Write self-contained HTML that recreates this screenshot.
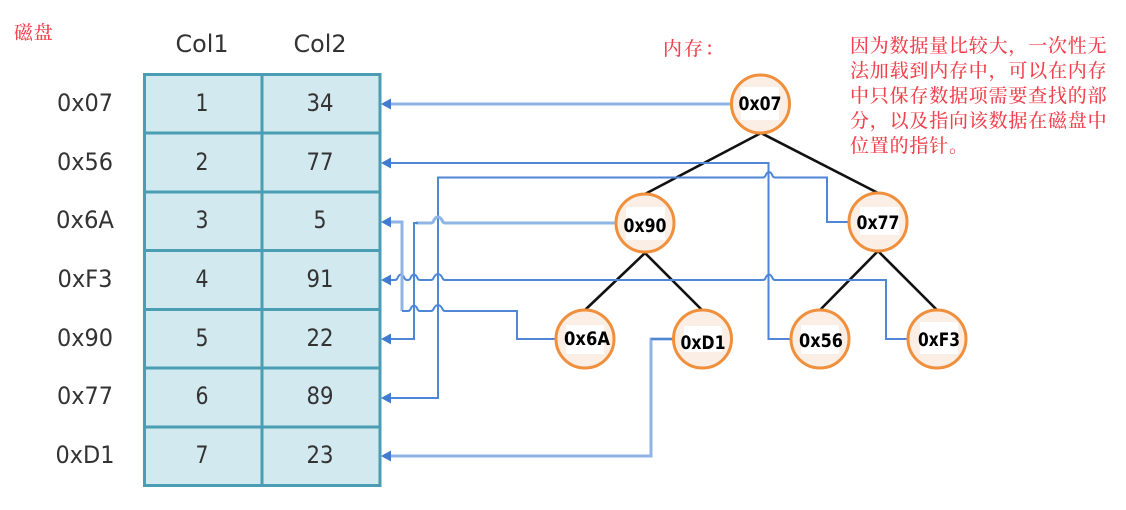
<!DOCTYPE html>
<html><head><meta charset="utf-8"><style>
html,body{margin:0;padding:0;background:#fff;width:1126px;height:510px;overflow:hidden}
svg{display:block}
.g{font-family:"DejaVu Sans","Liberation Sans",sans-serif;font-size:24px;fill:#333;text-anchor:middle}
.n{font-family:"DejaVu Sans","Liberation Sans",sans-serif;font-size:18.5px;font-weight:bold;fill:#000;text-anchor:middle}
.r{font-family:"Liberation Serif","Noto Serif CJK SC",serif;font-size:19px;fill:#f2404c;letter-spacing:.8px;font-weight:500}
.c{fill:none;stroke:#4f86d6;stroke-width:2}
.c2{fill:none;stroke:#8fb4e6;stroke-width:3}
.t{stroke:#111;stroke-width:2.6}
</style></head><body>
<svg width="1126" height="510" viewBox="0 0 1126 510" xmlns="http://www.w3.org/2000/svg">
<rect x="144.500" y="74.500" width="235.500" height="411" fill="#d2e9ef" stroke="#4a9db2" stroke-width="3"/>
<g stroke="#4a9db2" stroke-width="3">
<line x1="262" y1="74" x2="262" y2="486"/>
<line x1="144" y1="133" x2="380" y2="133"/>
<line x1="144" y1="192" x2="380" y2="192"/>
<line x1="144" y1="250.500" x2="380" y2="250.500"/>
<line x1="144" y1="309.500" x2="380" y2="309.500"/>
<line x1="144" y1="368" x2="380" y2="368"/>
<line x1="144" y1="427" x2="380" y2="427"/>
</g>
<g lengthAdjust="spacingAndGlyphs">
<text class="g" x="202" y="52" textLength="53" lengthAdjust="spacingAndGlyphs">Col1</text>
<text class="g" x="320" y="52" textLength="53" lengthAdjust="spacingAndGlyphs">Col2</text>
<text class="g" x="85" y="111" textLength="56" lengthAdjust="spacingAndGlyphs">0x07</text>
<text class="g" x="85" y="170" textLength="56" lengthAdjust="spacingAndGlyphs">0x56</text>
<text class="g" x="85" y="228" textLength="58" lengthAdjust="spacingAndGlyphs">0x6A</text>
<text class="g" x="85" y="287" textLength="55" lengthAdjust="spacingAndGlyphs">0xF3</text>
<text class="g" x="85" y="346" textLength="56" lengthAdjust="spacingAndGlyphs">0x90</text>
<text class="g" x="85" y="404" textLength="56" lengthAdjust="spacingAndGlyphs">0x77</text>
<text class="g" x="85" y="463" textLength="59" lengthAdjust="spacingAndGlyphs">0xD1</text>
<text class="g" x="202" y="111" textLength="13" lengthAdjust="spacingAndGlyphs">1</text><text class="g" x="320" y="111" textLength="27" lengthAdjust="spacingAndGlyphs">34</text>
<text class="g" x="202" y="170" textLength="13" lengthAdjust="spacingAndGlyphs">2</text><text class="g" x="320" y="170" textLength="27" lengthAdjust="spacingAndGlyphs">77</text>
<text class="g" x="202" y="228" textLength="13" lengthAdjust="spacingAndGlyphs">3</text><text class="g" x="320" y="228" textLength="13" lengthAdjust="spacingAndGlyphs">5</text>
<text class="g" x="202" y="287" textLength="13" lengthAdjust="spacingAndGlyphs">4</text><text class="g" x="320" y="287" textLength="27" lengthAdjust="spacingAndGlyphs">91</text>
<text class="g" x="202" y="346" textLength="13" lengthAdjust="spacingAndGlyphs">5</text><text class="g" x="320" y="346" textLength="27" lengthAdjust="spacingAndGlyphs">22</text>
<text class="g" x="202" y="404" textLength="13" lengthAdjust="spacingAndGlyphs">6</text><text class="g" x="320" y="404" textLength="27" lengthAdjust="spacingAndGlyphs">89</text>
<text class="g" x="202" y="463" textLength="13" lengthAdjust="spacingAndGlyphs">7</text><text class="g" x="320" y="463" textLength="27" lengthAdjust="spacingAndGlyphs">23</text>
</g>

<!-- tree edges -->
<line class="t" x1="761" y1="133" x2="645" y2="194"/>
<line class="t" x1="761" y1="133" x2="878" y2="193"/>
<line class="t" x1="645" y1="253" x2="585" y2="310"/>
<line class="t" x1="645" y1="253" x2="702" y2="310"/>
<line class="t" x1="878" y1="251" x2="820" y2="310"/>
<line class="t" x1="878" y1="251" x2="937" y2="310"/>

<!-- connectors -->
<path class="c2" d="M731 104H388"/>
<path class="c" d="M791 339H768.500V163H388"/>
<path class="c" d="M849 222H827V177.500H775q-2 0-3-3q-3-5-6 0q-1 3-3 3H438V398H388"/>
<path class="c2" d="M616 223H445q-2 0-3-3q-4-6-8 0q-1 3-3 3H416"/>
<path class="c" d="M418 223H414V339H388"/>
<path class="c" d="M908 339H886V280H775q-2 0-3-3q-3-5-6 0q-1 3-3 3H445q-2 0-3-3q-4-6-8 0q-1 3-3 3H420q-2 0-3-3q-3-5-6 0q-1 3-3 3H407q-2 0-3-3q-3-5-6 0q-1 3-3 3H388"/>
<path class="c2" d="M402 311V222H388"/>
<path class="c" d="M556 339H517V311H445q-2 0-3-3q-4-6-8 0q-1 3-3 3H420q-2 0-3-3q-3-5-6 0q-1 3-3 3H402"/>
<path class="c2" d="M674 339H651V456H388"/>
<path class="c" d="M674 339H651"/>
<g fill="#3f7bd3">
<path d="M381 104l10-5.500v11z"/><path d="M381 163l10-5.500v11z"/><path d="M381 222l10-5.500v11z"/>
<path d="M381 280l10-5.500v11z"/><path d="M381 339l10-5.500v11z"/><path d="M381 398l10-5.500v11z"/><path d="M381 456l10-5.500v11z"/>
</g>

<!-- nodes -->
<g fill="#fbeee4" stroke="#f08f3c" stroke-width="3">
<circle cx="760.500" cy="104" r="29"/>
<circle cx="645" cy="223" r="29"/>
<circle cx="878" cy="222" r="29"/>
<circle cx="585" cy="339" r="29"/>
<circle cx="702.500" cy="339" r="29"/>
<circle cx="820" cy="339" r="29"/>
<circle cx="937" cy="339" r="29"/>
</g>
<g fill="#fff">
<rect x="741" y="87" width="38" height="33"/>
<rect x="626" y="207" width="39" height="33"/>
<rect x="860" y="207" width="39" height="28"/>
<rect x="566" y="325" width="38" height="29"/>
<rect x="684" y="326" width="38" height="26"/>
<rect x="801" y="325" width="38" height="29"/>
<rect x="920" y="322" width="38" height="32"/>
</g>
<text class="n" x="760" y="110" textLength="43" lengthAdjust="spacingAndGlyphs">0x07</text>
<text class="n" x="645" y="232" textLength="43" lengthAdjust="spacingAndGlyphs">0x90</text>
<text class="n" x="878" y="229" textLength="43" lengthAdjust="spacingAndGlyphs">0x77</text>
<text class="n" x="587" y="345" textLength="46" lengthAdjust="spacingAndGlyphs">0x6A</text>
<text class="n" x="703" y="349" textLength="45" lengthAdjust="spacingAndGlyphs">0xD1</text>
<text class="n" x="821" y="347" textLength="44" lengthAdjust="spacingAndGlyphs">0x56</text>
<text class="n" x="939" y="346" textLength="42" lengthAdjust="spacingAndGlyphs">0xF3</text>

<!-- red text -->
<text class="r" x="14" y="39">磁盘</text>
<text class="r" x="663" y="55" style="letter-spacing:2px">内存：</text>
<text class="r" x="850" y="52">因为数据量比较大，一次性无</text>
<text class="r" x="850" y="77">法加载到内存中，可以在内存</text>
<text class="r" x="850" y="102">中只保存数据项需要查找的部</text>
<text class="r" x="850" y="127">分，以及指向该数据在磁盘中</text>
<text class="r" x="850" y="152">位置的指针。</text>
</svg>
</body></html>
